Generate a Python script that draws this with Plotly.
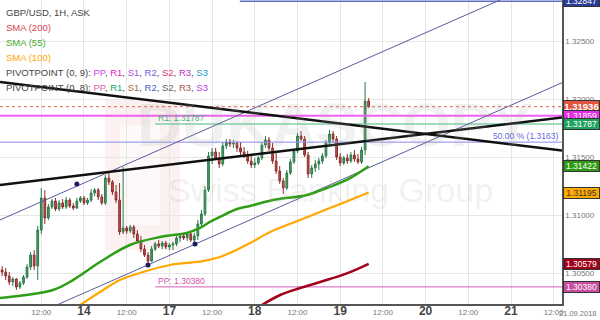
import plotly.graph_objects as go

# ---------------- data ----------------
days = ["2018-09-13"] * 23 + ["2018-09-14"] * 24 + ["2018-09-17"] * 24 + ["2018-09-18"] * 24 + ["2018-09-19"] * 9
hours = list(range(1, 24)) + list(range(24)) + list(range(24)) + list(range(24)) + list(range(9))
times = [f"{d} {h:02d}:00" for d, h in zip(days, hours)]

opens = [1.30526, 1.30508, 1.30474, 1.30422, 1.30448, 1.30379, 1.30413, 1.30465, 1.30552, 1.30655,
         1.30560, 1.30871, 1.31148, 1.30975, 1.31070, 1.31122, 1.31053, 1.31105, 1.31070, 1.31130,
         1.31079, 1.31061, 1.31122, 1.31148, 1.31105, 1.31130, 1.31191, 1.31217, 1.31157, 1.31105,
         1.31320, 1.31286, 1.31200, 1.31130, 1.30854, 1.30889, 1.30863, 1.30897, 1.30837, 1.30776,
         1.30707, 1.30655, 1.30603, 1.30707, 1.30751, 1.30733, 1.30759, 1.30725, 1.30742, 1.30751,
         1.30802, 1.30820, 1.30802, 1.30837, 1.30785, 1.30820, 1.30923, 1.31010, 1.31217, 1.31511,
         1.31545, 1.31493, 1.31442, 1.31597, 1.31631, 1.31614, 1.31623, 1.31580, 1.31545, 1.31511,
         1.31467, 1.31433, 1.31450, 1.31493, 1.31605, 1.31649, 1.31580, 1.31467, 1.31381, 1.31295,
         1.31234, 1.31364, 1.31459, 1.31554, 1.31683, 1.31657, 1.31519, 1.31355, 1.31407, 1.31442,
         1.31467, 1.31511, 1.31623, 1.31700, 1.31657, 1.31502, 1.31450, 1.31493, 1.31467, 1.31519,
         1.31485, 1.31459, 1.31562, 1.31985]
highs = [1.30560, 1.30543, 1.30508, 1.30465, 1.30457, 1.30431, 1.30482, 1.30577, 1.30681, 1.30698,
         1.30906, 1.31234, 1.31217, 1.31096, 1.31139, 1.31148, 1.31130, 1.31139, 1.31157, 1.31148,
         1.31105, 1.31148, 1.31165, 1.31165, 1.31148, 1.31226, 1.31234, 1.31234, 1.31182, 1.31346,
         1.31372, 1.31303, 1.31260, 1.31277, 1.31416, 1.30906, 1.30915, 1.30915, 1.30871, 1.30820,
         1.30742, 1.30681, 1.30733, 1.30768, 1.30785, 1.30776, 1.30776, 1.30759, 1.30768, 1.30820,
         1.30837, 1.30846, 1.30854, 1.30863, 1.30846, 1.30958, 1.31044, 1.31251, 1.31545, 1.31580,
         1.31580, 1.31545, 1.31631, 1.31657, 1.31657, 1.31649, 1.31640, 1.31631, 1.31588, 1.31554,
         1.31511, 1.31493, 1.31511, 1.31631, 1.31683, 1.31674, 1.31623, 1.31536, 1.31424, 1.31320,
         1.31389, 1.31485, 1.31571, 1.31709, 1.31726, 1.31683, 1.31545, 1.31433, 1.31476, 1.31493,
         1.31536, 1.31649, 1.31735, 1.31726, 1.31683, 1.31536, 1.31511, 1.31528, 1.31545, 1.31562,
         1.31528, 1.31588, 1.32149, 1.32011]
lows = [1.30474, 1.30439, 1.30396, 1.30388, 1.30353, 1.30362, 1.30396, 1.30448, 1.30526, 1.30526,
        1.30439, 1.30837, 1.30923, 1.30958, 1.31053, 1.31035, 1.31035, 1.31053, 1.31053, 1.31061,
        1.31044, 1.31053, 1.31105, 1.31087, 1.31087, 1.31113, 1.31165, 1.31130, 1.31087, 1.31087,
        1.31260, 1.31174, 1.31105, 1.30828, 1.30837, 1.30837, 1.30846, 1.30802, 1.30759, 1.30681,
        1.30638, 1.30569, 1.30595, 1.30690, 1.30716, 1.30707, 1.30707, 1.30698, 1.30698, 1.30733,
        1.30768, 1.30785, 1.30776, 1.30768, 1.30751, 1.30785, 1.30906, 1.30992, 1.31200, 1.31442,
        1.31476, 1.31407, 1.31424, 1.31571, 1.31588, 1.31580, 1.31545, 1.31519, 1.31493, 1.31442,
        1.31407, 1.31407, 1.31433, 1.31476, 1.31580, 1.31554, 1.31442, 1.31355, 1.31269, 1.31182,
        1.31217, 1.31346, 1.31442, 1.31536, 1.31640, 1.31502, 1.31320, 1.31320, 1.31372, 1.31389,
        1.31442, 1.31493, 1.31605, 1.31631, 1.31476, 1.31424, 1.31433, 1.31442, 1.31450, 1.31459,
        1.31442, 1.31442, 1.31519, 1.31925]
closes = [1.30508, 1.30474, 1.30422, 1.30448, 1.30379, 1.30413, 1.30465, 1.30552, 1.30655, 1.30560,
          1.30871, 1.31148, 1.30975, 1.31070, 1.31122, 1.31053, 1.31105, 1.31070, 1.31130, 1.31079,
          1.31061, 1.31122, 1.31148, 1.31105, 1.31130, 1.31191, 1.31217, 1.31157, 1.31105, 1.31320,
          1.31286, 1.31200, 1.31130, 1.30854, 1.30889, 1.30863, 1.30897, 1.30837, 1.30776, 1.30707,
          1.30655, 1.30603, 1.30707, 1.30751, 1.30733, 1.30759, 1.30725, 1.30742, 1.30751, 1.30802,
          1.30820, 1.30802, 1.30837, 1.30785, 1.30820, 1.30923, 1.31010, 1.31217, 1.31511, 1.31545,
          1.31493, 1.31442, 1.31597, 1.31631, 1.31614, 1.31623, 1.31580, 1.31545, 1.31511, 1.31467,
          1.31433, 1.31450, 1.31493, 1.31605, 1.31649, 1.31580, 1.31467, 1.31381, 1.31295, 1.31234,
          1.31364, 1.31459, 1.31554, 1.31683, 1.31657, 1.31519, 1.31355, 1.31407, 1.31442, 1.31467,
          1.31511, 1.31623, 1.31700, 1.31657, 1.31502, 1.31450, 1.31493, 1.31467, 1.31519, 1.31485,
          1.31459, 1.31562, 1.31985, 1.31936]

sma55_t = ["2018-09-13 00:24", "2018-09-13 15:18", "2018-09-13 20:54", "2018-09-14 04:30", "2018-09-14 12:54",
           "2018-09-14 21:24", "2018-09-17 04:54", "2018-09-17 08:36", "2018-09-17 11:24", "2018-09-17 14:12",
           "2018-09-17 19:00", "2018-09-17 22:42", "2018-09-18 05:06", "2018-09-18 14:42", "2018-09-18 20:18",
           "2018-09-19 02:48", "2018-09-19 08:00"]
sma55_v = [1.30284, 1.30353, 1.30439, 1.30595, 1.30742, 1.30811, 1.30846, 1.30889, 1.30941, 1.30984,
           1.31053, 1.31079, 1.31130, 1.31174, 1.31234, 1.31320, 1.31422]
sma100_t = ["2018-09-13 22:54", "2018-09-14 04:30", "2018-09-14 10:06", "2018-09-14 18:30", "2018-09-17 00:12",
            "2018-09-17 09:24", "2018-09-17 14:12", "2018-09-17 17:00", "2018-09-17 22:42", "2018-09-18 04:18",
            "2018-09-18 12:42", "2018-09-18 21:06", "2018-09-19 02:48", "2018-09-19 08:00"]
sma100_v = [1.30223, 1.30336, 1.30439, 1.30526, 1.30569, 1.30603, 1.30638, 1.30673, 1.30759, 1.30854,
            1.30958, 1.31061, 1.31130, 1.31195]
sma200_t = ["2018-09-18 02:00", "2018-09-18 07:06", "2018-09-18 12:42", "2018-09-18 21:06", "2018-09-19 02:48",
            "2018-09-19 08:00"]
sma200_v = [1.30223, 1.30310, 1.30370, 1.30448, 1.30508, 1.30579]

x_start, x_end = "2018-09-13 00:24", "2018-09-21 14:20"
trend_black_down = [1.32149, 1.31557]
trend_black_up = [1.31260, 1.31842]
channel_upper = [1.30958, 1.33093]
channel_lower = [1.30008, 1.32143]
anchor_t = ["2018-09-13 22:00", "2018-09-14 18:00", "2018-09-17 07:12"]
anchor_v = [1.31269, 1.30569, 1.30751]

last_price = 1.31936
pivot_pp9 = 1.31859
r1_level = 1.31787
fib50 = 1.3163
pp_level = 1.30380
r2_level = 1.32847
r1_start = "2018-09-14 20:00"
r2_start = "2018-09-17 19:48"

tick_times = ["2018-09-13 12:00", "2018-09-14 00:00", "2018-09-14 12:00", "2018-09-17 00:00", "2018-09-17 12:00",
              "2018-09-18 00:00", "2018-09-18 12:00", "2018-09-19 00:00", "2018-09-19 12:00", "2018-09-20 00:00",
              "2018-09-20 12:00", "2018-09-21 00:00", "2018-09-21 12:00"]
tick_labels = ["12:00", "14", "12:00", "17", "12:00", "18", "12:00", "19", "12:00", "20", "12:00", "21", "12:00"]
price_ticks = [1.305, 1.310, 1.315, 1.320, 1.325]
end_date_label = "21.09.2018"

# ---------------- figure ----------------
FONT = "Liberation Sans, Arial, sans-serif"
fig = go.Figure()

# watermark logo (behind)
fig.add_shape(type="rect", xref="paper", yref="paper", x0=105/562, x1=180/562, y0=1-250/304, y1=1-100/304,
              fillcolor="rgba(235,150,150,0.13)", line_width=0, layer="below")
fig.add_shape(type="rect", xref="paper", yref="paper", x0=120/562, x1=160/562, y0=1-225/304, y1=1-125/304,
              fillcolor="rgba(255,255,255,0.6)", line_width=0, layer="below")

def hline(x0, x1, y, color, width, dash="solid"):
    fig.add_trace(go.Scatter(x=[x0, x1], y=[y, y], mode="lines", line=dict(color=color, width=width, dash=dash),
                             hoverinfo="skip"))

hline(r2_start, x_end, r2_level, "#5f6fc4", 1.5)
hline(x_start, x_end, last_price, "#e0604a", 1, "dot")
hline(x_start, x_end, pivot_pp9, "#f060f0", 2)
hline(r1_start, x_end, r1_level, "#7fd0a8", 1.5)
hline(x_start, x_end, fib50, "#8a8af0", 1)
hline(r1_start, x_end, pp_level, "#d060b8", 1)

# channel lines
for vals in (channel_upper, channel_lower):
    fig.add_trace(go.Scatter(x=[x_start, x_end], y=vals, mode="lines", line=dict(color="#5a5a98", width=1),
                             hoverinfo="skip"))
fig.add_trace(go.Scatter(x=anchor_t, y=anchor_v, mode="markers", marker=dict(color="#1c1c66", size=5),
                         hoverinfo="skip"))

# SMAs
fig.add_trace(go.Scatter(x=sma200_t, y=sma200_v, mode="lines", line=dict(color="#a3001c", width=2.5, shape="spline")))
fig.add_trace(go.Scatter(x=sma100_t, y=sma100_v, mode="lines", line=dict(color="#ffa800", width=2.2, shape="spline")))
fig.add_trace(go.Scatter(x=sma55_t, y=sma55_v, mode="lines", line=dict(color="#2f9e17", width=2.5, shape="spline")))

# candles
fig.add_trace(go.Candlestick(x=times, open=opens, high=highs, low=lows, close=closes,
                             increasing=dict(line=dict(color="#2d7a4a", width=1), fillcolor="#4f9a68"),
                             decreasing=dict(line=dict(color="#8c2e2e", width=1), fillcolor="#c0504a"),
                             whiskerwidth=0))

# black trend lines
for vals in (trend_black_down, trend_black_up):
    fig.add_trace(go.Scatter(x=[x_start, x_end], y=vals, mode="lines", line=dict(color="#111111", width=2.5),
                             hoverinfo="skip"))

ann = []
# watermark text
ann.append(dict(text="<b>DUKASCOPY</b>", xref="paper", yref="paper", x=335/562, y=1-124/304, showarrow=False,
                font=dict(family=FONT, size=62, color="rgba(170,170,170,0.16)")))
ann.append(dict(text="Swiss Banking Group", xref="paper", yref="paper", x=330/562, y=1-190/304, showarrow=False,
                font=dict(family=FONT, size=34, color="rgba(170,170,170,0.16)")))

# legend texts
legend_texts = [
    ("GBP/USD, 1H, ASK", "#444444"),
    ("SMA (200)", "#d0454f"),
    ("SMA (55)", "#3fae2a"),
    ("SMA (100)", "#ffa500"),
]
for i, (t, c) in enumerate(legend_texts):
    ann.append(dict(text=t, xref="paper", yref="paper", x=4/562, y=1-(12.5+15*i)/304, xanchor="left",
                    yanchor="middle", showarrow=False, font=dict(family=FONT, size=9.5, color=c)))
piv_names = ["PP", "R1", "S1", "R2", "S2", "R3", "S3"]
piv9_colors = ["#cc44ee", "#ee22cc", "#a855e0", "#6a5ae0", "#e0307a", "#b030c0", "#22a0c8"]
piv8_colors = ["#e060b0", "#20a060", "#a07050", "#4060c0", "#606060", "#a06040", "#c040e0"]
for j, (lab, cols) in enumerate((("PIVOTPOINT (0, 9): ", piv9_colors), ("PIVOTPOINT (0, 8): ", piv8_colors))):
    parts = ", ".join(f'<span style="color:{c}">{n}</span>' for n, c in zip(piv_names, cols))
    ann.append(dict(text=lab + parts, xref="paper", yref="paper", x=4/562, y=1-(72.5+15*j)/304, xanchor="left",
                    yanchor="middle", showarrow=False, font=dict(family=FONT, size=9.5, color="#444444")))

# line labels
ann.append(dict(text=f"R1: {r1_level:.5f}", x=r1_start, y=r1_level, xanchor="left", yanchor="bottom", showarrow=False,
                xshift=1, yshift=-1, font=dict(family=FONT, size=8.5, color="#45b07a")))
ann.append(dict(text=f"PP: {pp_level:.5f}", x=r1_start, y=pp_level, xanchor="left", yanchor="bottom", showarrow=False,
                xshift=1, yshift=-1, font=dict(family=FONT, size=8.5, color="#d050b0")))
ann.append(dict(text=f"50.00 % ({fib50:.4f})", x=x_end, y=fib50, xanchor="right", yanchor="bottom", showarrow=False,
                xshift=-2, yshift=-1, font=dict(family=FONT, size=8.5, color="#6a6ae0")))

# right price boxes
boxes = [
    (r2_level, "#2b3c96", "#ffffff"),
    (last_price, "#e2553f", "#ffffff"),
    (pivot_pp9, "#e62ee6", "#ffffff"),
    (r1_level, "#1fa35f", "#ffffff"),
    (sma55_v[-1], "#2e9a12", "#ffffff"),
    (sma100_v[-1], "#ffaa00", "#333333"),
    (sma200_v[-1], "#a0001a", "#ffffff"),
    (pp_level, "#c94c9e", "#ffffff"),
]
for v, bg, fc in boxes:
    big = v == last_price
    ann.append(dict(text=(f"<b>{v:.5f}</b>" if big else f"{v:.5f}"), xref="paper", yref="y", x=1, y=v,
                    xanchor="left", yanchor="middle", xshift=1, showarrow=False, bgcolor=bg,
                    bordercolor="#333333", borderwidth=1, borderpad=0, width=35, height=11 if big else 10,
                    font=dict(family=FONT, size=9.5 if big else 8.5, color=fc)))

ann.append(dict(text=end_date_label, xref="paper", yref="paper", x=599/562, y=0, xanchor="right", yanchor="top",
                yshift=-3, showarrow=False, font=dict(family=FONT, size=7.5, color="#777777")))

ticktext = [(f'<span style="font-size:12px;color:#444"><b>{t}</b></span>' if ":" not in t else t) for t in tick_labels]

fig.update_layout(
    width=600, height=320, margin=dict(l=0, r=38, t=0, b=16),
    plot_bgcolor="white", paper_bgcolor="white", showlegend=False,
    annotations=ann,
    xaxis=dict(type="date", range=[x_start, x_end], rangebreaks=[dict(bounds=["sat", "mon"])],
               rangeslider=dict(visible=False), tickmode="array", tickvals=tick_times, ticktext=ticktext,
               showgrid=True, gridcolor="#e6e6e6", gridwidth=1, showline=True, linecolor="#555555", linewidth=1.5,
               ticks="", tickfont=dict(family=FONT, size=8, color="#777777"), zeroline=False),
    yaxis=dict(side="right", range=[1.302323, 1.328575], tickmode="array", tickvals=price_ticks,
               ticktext=[f"{p:.5f}" for p in price_ticks], showgrid=True, gridcolor="#e6e6e6",
               showline=True, linecolor="#555555", linewidth=1.5, ticks="", zeroline=False,
               tickfont=dict(family=FONT, size=8, color="#777777")),
)

fig.write_html("out.html")
